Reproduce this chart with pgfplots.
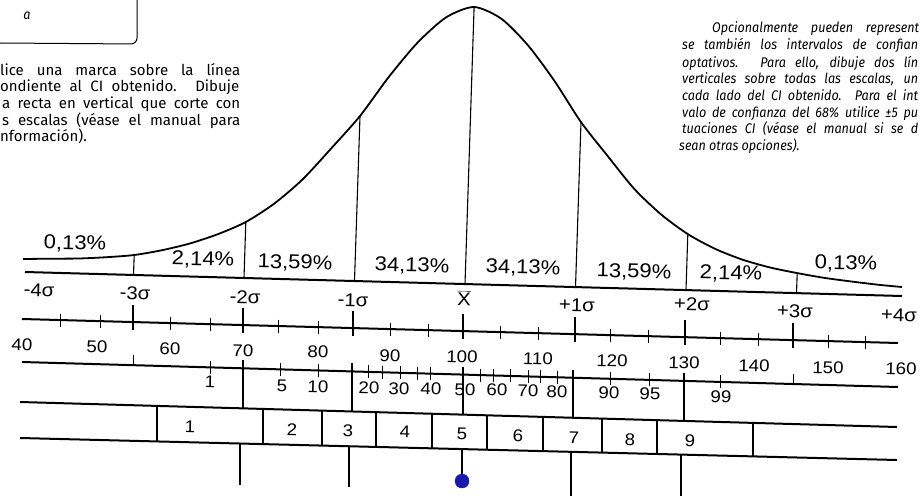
\documentclass[border=0pt]{standalone}
\usepackage{pgfplots}
\pgfplotsset{compat=1.18}
\usepackage{fontspec}
\setmainfont{Liberation Sans}
\newfontfamily\numfont[FakeStretch=1.1]{Liberation Sans}
\newfontfamily\parafont{Fira Sans}
\newfontfamily\rparfont[FakeStretch=0.9]{Fira Sans}
\definecolor{dotblue}{RGB}{25,25,170}
\tikzset{
  pct/.style={font=\numfont\fontsize{20}{24}\selectfont, inner sep=0pt, rotate=-1.4},
  sig/.style={font=\numfont\fontsize{18.5}{22}\selectfont, inner sep=0pt, rotate=-1.4},
  num/.style={font=\numfont\fontsize{17}{20}\selectfont, inner sep=0pt, rotate=-1.4},
  lpar/.style={font=\parafont\fontsize{15}{18}\selectfont, inner sep=0pt, anchor=base west},
  rpar/.style={font=\rparfont\itshape\fontsize{14}{16}\selectfont, inner sep=0pt, anchor=base west},
}
\begin{document}
\begin{tikzpicture}
\useasboundingbox (0,0) rectangle (923pt,495pt);
\begin{axis}[at={(0,0)}, anchor=south west, scale only axis,
  width=923pt, height=495pt, xmin=0, xmax=923, ymin=0, ymax=495,
  y dir=reverse, hide axis, clip=true]
% top-left box
\addplot[black, line width=1pt, rounded corners=6pt] coordinates {(0,43) (137,44) (137,0)};
\node[font=\rparfont\itshape\fontsize{14}{16}\selectfont] at (axis cs:27,16) {a};

% normal curve
\addplot[black, line width=1.8pt, smooth, tension=0.45] coordinates {
(23,259) (51,258.7) (78.7,258.5) (106.5,257.2) (134.2,255.0) (162,250.2)
(189.8,243.5) (217.8,234.2) (245.8,222.0) (274.1,203.7) (302.5,179.5)
(331.3,148.3) (360,116) (388.9,76.8) (417.7,42.5) (446.2,17.3) (474.1,7.0)
(501.4,18.8) (528.2,45.6) (554.7,81.3) (581,122.1) (607.5,155.8)
(634,188.6) (660.9,214.3) (687.8,234.1) (715,248.8) (742.3,259.6)
(769.7,267.4) (797.2,273.1) (824.5,277.9) (852.2,281.6) (879.7,284.9) (902,287)};
% baseline
\addplot[black, line width=2pt] coordinates {(25,272) (902,296)};
% vertical lines under curve
\addplot[black, line width=1.1pt] coordinates {(474.1,7) (465,284)};
\addplot[black, line width=1.1pt] coordinates {(360,116) (354.5,281)};
\addplot[black, line width=1.1pt] coordinates {(581,122.1) (575.5,287.1)};
\addplot[black, line width=1.1pt] coordinates {(245.8,222) (244,278)};
\addplot[black, line width=1.1pt] coordinates {(687.8,234.1) (686,290.1)};
\addplot[black, line width=1.1pt] coordinates {(134.2,255) (133.5,275)};
\addplot[black, line width=1.1pt] coordinates {(797.2,273.1) (796.5,293.1)};

% percentages
\node[pct] at (axis cs:75,244) {0,13\%};
\node[pct] at (axis cs:203,260) {2,14\%};
\node[pct] at (axis cs:295,263) {13,59\%};
\node[pct] at (axis cs:412,266) {34,13\%};
\node[pct] at (axis cs:523,268) {34,13\%};
\node[pct] at (axis cs:634,272) {13,59\%};
\node[pct] at (axis cs:731,274) {2,14\%};
\node[pct] at (axis cs:846,264) {0,13\%};

% sigma labels
\node[sig] at (axis cs:39,290) {-4σ};
\node[sig] at (axis cs:135,293) {-3σ};
\node[sig] at (axis cs:245,297) {-2σ};
\node[sig] at (axis cs:353,300) {-1σ};
\node[sig] at (axis cs:464,298) {$\overline{\hbox{\numfont\fontsize{18.5}{22}\selectfont X}}$};
\node[sig] at (axis cs:577,305) {+1σ};
\node[sig] at (axis cs:692,304) {+2σ};
\node[sig] at (axis cs:795,311) {+3σ};
\node[sig] at (axis cs:899,315) {+4σ};

% sigma / IQ scale line
\addplot[black, line width=2pt] coordinates {(22,319) (898,343)};
\addplot[only marks, mark=|, mark size=6.5, mark options={line width=0.9pt}] coordinates {
(60,320.0) (100,321.1) (170,323.1) (210,324.2) (278,326.0) (318,327.1)
(390,329.1) (428,330.1) (500,332.1) (538,333.1) (610,335.1) (648,336.2)
(720,338.1) (758,339.2) (828,341.1) (865,342.1)};
\addplot[only marks, mark=|, mark size=12.5, mark options={line width=1.1pt}] coordinates {
(133,317.5) (243,320.6) (353,323.6) (463,326.6) (575,329.7) (685,332.7) (793,335.6)};

% IQ labels
\node[num] at (axis cs:22,345) {40};
\node[num] at (axis cs:97,347) {50};
\node[num] at (axis cs:170,349) {60};
\node[num] at (axis cs:243,351) {70};
\node[num] at (axis cs:318,352) {80};
\node[num] at (axis cs:390,356) {90};
\node[num] at (axis cs:462,357) {100};
\node[num] at (axis cs:538,359) {110};
\node[num] at (axis cs:612,361) {120};
\node[num] at (axis cs:684,363) {130};
\node[num] at (axis cs:754,366) {140};
\node[num] at (axis cs:828,368) {150};
\node[num] at (axis cs:901,369) {160};

% percentile line
\addplot[black, line width=2pt] coordinates {(22,362) (898,387)};
\addplot[only marks, mark=|, mark size=6.5, mark options={line width=0.9pt}] coordinates {
(210,367.4) (280,369.4) (318,370.4) (368,371.9) (382,372.3) (400,372.8)
(417,373.3) (430,373.6) (480,375.1) (493,375.4) (510,375.9) (528,376.4)
(540,376.8) (557,377.2) (610,378.8) (649,379.9) (720,381.9)};
\addplot[only marks, mark=|, mark size=5, mark options={line width=0.9pt}] coordinates {
(133,360.2) (793,379)};
\addplot[black, line width=1.1pt] coordinates {(243,360.3) (243,408.4)};
\addplot[black, line width=1.1pt] coordinates {(352,363.4) (352,411.5)};
\addplot[black, line width=1.1pt] coordinates {(463,366.6) (463,414.6)};
\addplot[black, line width=1.1pt] coordinates {(573,369.7) (573,417.8)};
\addplot[black, line width=1.1pt] coordinates {(684,372.9) (684,420.9)};

% percentile labels
\node[num] at (axis cs:210,382) {1};
\node[num] at (axis cs:282,386) {5};
\node[num] at (axis cs:318,387) {10};
\node[num] at (axis cs:369,388) {20};
\node[num] at (axis cs:399,389) {30};
\node[num] at (axis cs:431,389) {40};
\node[num] at (axis cs:465,390) {50};
\node[num] at (axis cs:497,390) {60};
\node[num] at (axis cs:528,391) {70};
\node[num] at (axis cs:557,392) {80};
\node[num] at (axis cs:609,393) {90};
\node[num] at (axis cs:650,394) {95};
\node[num] at (axis cs:721,397) {99};

% stanine lines
\addplot[black, line width=2pt] coordinates {(20,402) (897,427)};
\addplot[black, line width=2pt] coordinates {(20,438) (897,460)};
\addplot[black, line width=1.1pt] coordinates {(157,405.9) (157,441.4)};
\addplot[black, line width=1.1pt] coordinates {(263,408.9) (263,444.1)};
\addplot[black, line width=1.1pt] coordinates {(322,410.6) (322,445.6)};
\addplot[black, line width=1.1pt] coordinates {(376,412.1) (376,446.9)};
\addplot[black, line width=1.1pt] coordinates {(432,413.7) (432,448.3)};
\addplot[black, line width=1.1pt] coordinates {(487,415.3) (487,449.7)};
\addplot[black, line width=1.1pt] coordinates {(543,416.9) (543,451.1)};
\addplot[black, line width=1.1pt] coordinates {(602,418.6) (602,452.6)};
\addplot[black, line width=1.1pt] coordinates {(657,420.2) (657,453.9)};
\addplot[black, line width=1.1pt] coordinates {(753,422.9) (753,456.3)};

% stanine labels
\node[num] at (axis cs:190,427) {1};
\node[num] at (axis cs:292,430) {2};
\node[num] at (axis cs:348,431) {3};
\node[num] at (axis cs:405,432) {4};
\node[num] at (axis cs:462,434) {5};
\node[num] at (axis cs:518,436) {6};
\node[num] at (axis cs:574,438) {7};
\node[num] at (axis cs:630,440) {8};
\node[num] at (axis cs:690,441) {9};

% bottom lines
\addplot[black, line width=1.1pt] coordinates {(240,443.5) (240,485)};
\addplot[black, line width=1.1pt] coordinates {(349,446.2) (349,487)};
\addplot[black, line width=1.1pt] coordinates {(462,449) (462,476)};
\addplot[black, line width=1.1pt] coordinates {(571,451.8) (571,496)};
\addplot[black, line width=1.1pt] coordinates {(681,454.5) (681,496)};
\addplot[only marks, mark=*, mark size=7, color=dotblue] coordinates {(462,481)};

% left paragraph
\node[lpar] at (axis cs:0,75) {\makebox[240pt][s]{lice una marca sobre la línea}};
\node[lpar] at (axis cs:0,92) {\makebox[239pt][s]{ondiente al CI obtenido. Dibuje}};
\node[lpar] at (axis cs:2,108.5) {\makebox[238pt][s]{a recta en vertical que corte con}};
\node[lpar] at (axis cs:2,125) {\makebox[238pt][s]{s escalas (véase el manual para}};
\node[lpar] at (axis cs:0,141.5) {nformación).};

% right paragraph
\node[rpar] at (axis cs:712,33) {\makebox[207pt][s]{Opcionalmente pueden represent}};
\node[rpar] at (axis cs:682,50) {\makebox[236pt][s]{se también los intervalos de confian}};
\node[rpar] at (axis cs:682,67) {\makebox[236pt][s]{optativos. Para ello, dibuje dos lín}};
\node[rpar] at (axis cs:682,84) {\makebox[236pt][s]{verticales sobre todas las escalas, un}};
\node[rpar] at (axis cs:682,100.5) {\makebox[236pt][s]{cada lado del CI obtenido. Para el int}};
\node[rpar] at (axis cs:682,117) {\makebox[236pt][s]{valo de confianza del 68\% utilice ±5 pu}};
\node[rpar] at (axis cs:682,133.5) {\makebox[236pt][s]{tuaciones CI (véase el manual si se d}};
\node[rpar] at (axis cs:679,150) {sean otras opciones).};
\end{axis}
\end{tikzpicture}
\end{document}
